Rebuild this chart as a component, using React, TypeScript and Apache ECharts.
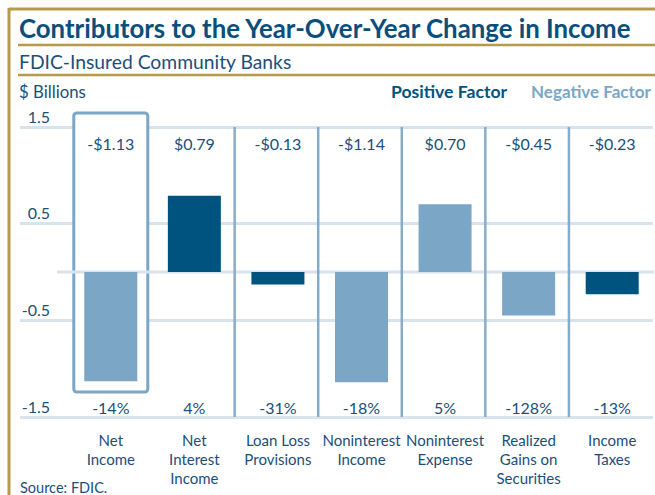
import React, { useEffect, useRef } from "react";
import * as echarts from "echarts";

const categories = [
  "Net\nIncome",
  "Net\nInterest\nIncome",
  "Loan Loss\nProvisions",
  "Noninterest\nIncome",
  "Noninterest\nExpense",
  "Realized\nGains on\nSecurities",
  "Income\nTaxes",
];
const changeBillions = [-1.13, 0.79, -0.13, -1.14, 0.7, -0.45, -0.23];
const factorType = ["negative", "positive", "positive", "negative", "negative", "negative", "positive"];
const pctChange = [-14, 4, -31, -18, 5, -128, -13];
const highlighted = [0];
const separatorsAt = [2, 3, 4, 5, 6];

const DARK = "#00537f";
const LIGHT = "#7ba6c6";
const TEXT = "#1b4f7a";
const GRID = "#d8e3ed";
const GOLD = "#b7994c";
const FONT = "Lato, 'Open Sans', sans-serif";

const fmtMoney = (v: number) => (v < 0 ? "-" : "") + "$" + Math.abs(v).toFixed(2);

export default function App() {
  const ref = useRef<HTMLDivElement>(null);
  useEffect(() => {
    if (!ref.current) return;
    const chart = echarts.init(ref.current, undefined, { renderer: "svg" });
    const gridTop = 127;
    const gridHeight = 290;
    const option: any = {
      animation: false,
      backgroundColor: "#ffffff",
      textStyle: { fontFamily: FONT },
      graphic: [
        { type: "line", shape: { x1: 9, y1: 9, x2: 655, y2: 9 }, style: { stroke: GOLD, lineWidth: 3 } },
        { type: "line", shape: { x1: 9, y1: 8, x2: 9, y2: 495 }, style: { stroke: GOLD, lineWidth: 3 } },
        { type: "line", shape: { x1: 18, y1: 45, x2: 655, y2: 45 }, style: { stroke: GOLD, lineWidth: 2.5 } },
        { type: "line", shape: { x1: 18, y1: 75, x2: 655, y2: 75 }, style: { stroke: GOLD, lineWidth: 2.5 } },
        {
          type: "text", x: 19, y: 28,
          style: { text: "Contributors to the Year-Over-Year Change in Income", fill: "#0a4e7b", font: `bold 25.8px ${FONT}`, verticalAlign: "middle", align: "left" },
        },
        {
          type: "text", x: 19, y: 61,
          style: { text: "FDIC-Insured Community Banks", fill: TEXT, font: `19.3px ${FONT}`, verticalAlign: "middle", align: "left" },
        },
        {
          type: "text", x: 19, y: 91,
          style: { text: "$ Billions", fill: TEXT, font: `16.8px ${FONT}`, verticalAlign: "middle", align: "left" },
        },
        {
          type: "text", x: 391, y: 91,
          style: { text: "Positive Factor", fill: DARK, font: `bold 17.6px ${FONT}`, verticalAlign: "middle", align: "left" },
        },
        {
          type: "text", x: 531, y: 91,
          style: { text: "Negative Factor", fill: LIGHT, font: `bold 17px ${FONT}`, verticalAlign: "middle", align: "left" },
        },
        {
          type: "text", x: 20, y: 487,
          style: { text: "Source: FDIC.", fill: TEXT, font: `14.5px ${FONT}`, verticalAlign: "middle", align: "left" },
        },
      ],
      grid: [
        { left: 20, right: 2, top: gridTop, height: gridHeight },
        { left: 69, right: 1, top: gridTop, height: gridHeight },
      ],
      xAxis: [
        { gridIndex: 0, type: "value", show: false, min: 0, max: 1 },
        {
          gridIndex: 1,
          type: "category",
          data: categories,
          position: "bottom",
          axisLine: { show: false },
          axisTick: { show: false },
          splitLine: { show: false },
          axisLabel: { interval: 0, margin: 13, fontSize: 15, lineHeight: 19, color: TEXT, fontFamily: FONT },
        },
      ],
      yAxis: [
        {
          gridIndex: 0,
          type: "value",
          min: -1.5,
          max: 1.5,
          interval: 1,
          axisLine: { show: false },
          axisTick: { show: false },
          splitLine: { show: true, lineStyle: { color: GRID, width: 3 } },
          axisLabel: {
            inside: true,
            margin: 30,
            align: "right",
            verticalAlign: "bottom",
            padding: [0, 0, 3, 0],
            fontSize: 16,
            color: TEXT,
            fontFamily: FONT,
            formatter: (v: number) => v.toFixed(1),
          },
        },
        { gridIndex: 1, type: "value", min: -1.5, max: 1.5, show: false },
      ],
      series: [
        {
          type: "custom",
          name: "box",
          xAxisIndex: 1,
          yAxisIndex: 1,
          z: 1,
          silent: true,
          data: highlighted.map((i) => [i, 0]),
          renderItem: (params: any, api: any) => {
            const cs = params.coordSys;
            const c = api.coord([api.value(0), 0]);
            return {
              type: "rect",
              shape: { x: c[0] - 37, y: cs.y - 14, width: 74, height: cs.height - 11, r: 3 },
              style: { fill: "#ffffff", stroke: LIGHT, lineWidth: 3 },
            };
          },
        },
        {
          type: "custom",
          name: "zero",
          xAxisIndex: 1,
          yAxisIndex: 1,
          z: 1,
          silent: true,
          data: [[0, 0]],
          renderItem: (params: any, api: any) => {
            const cs = params.coordSys;
            const y = api.coord([0, 0])[1];
            return {
              type: "line",
              shape: { x1: cs.x - 12, y1: y, x2: cs.x + cs.width, y2: y },
              style: { stroke: GRID, lineWidth: 3 },
            };
          },
        },
        {
          type: "custom",
          name: "separators",
          xAxisIndex: 1,
          yAxisIndex: 1,
          z: 2,
          silent: true,
          data: separatorsAt.map((i) => [i, 0]),
          renderItem: (params: any, api: any) => {
            const cs = params.coordSys;
            const c = api.coord([api.value(0), 0]);
            const w = api.size([1, 0])[0];
            const x = c[0] - w / 2 - 1.5;
            return {
              type: "line",
              shape: { x1: x, y1: cs.y, x2: x, y2: cs.y + cs.height },
              style: { stroke: "#86acca", lineWidth: 2.5 },
            };
          },
        },
        {
          type: "bar",
          name: "change",
          xAxisIndex: 1,
          yAxisIndex: 1,
          z: 3,
          barWidth: 53,
          data: changeBillions.map((v, i) => ({
            value: v,
            itemStyle: { color: factorType[i] === "positive" ? DARK : LIGHT },
          })),
        },
        {
          type: "custom",
          name: "labels",
          xAxisIndex: 1,
          yAxisIndex: 1,
          z: 4,
          silent: true,
          data: changeBillions.map((v, i) => [i, v, pctChange[i]]),
          renderItem: (params: any, api: any) => {
            const cs = params.coordSys;
            const c = api.coord([api.value(0), 0]);
            return {
              type: "group",
              children: [
                {
                  type: "text",
                  x: c[0],
                  y: cs.y + 16,
                  style: { text: fmtMoney(api.value(1)), fill: TEXT, font: `16px ${FONT}`, align: "center", verticalAlign: "middle" },
                },
                {
                  type: "text",
                  x: c[0],
                  y: cs.y + cs.height - 10,
                  style: { text: `${api.value(2)}%`, fill: TEXT, font: `16px ${FONT}`, align: "center", verticalAlign: "middle" },
                },
              ],
            };
          },
        },
      ],
    };
    chart.setOption(option);
    return () => chart.dispose();
  }, []);
  return <div ref={ref} style={{ position: "fixed", left: 0, top: 0, width: 655, height: 495 }} />;
}
